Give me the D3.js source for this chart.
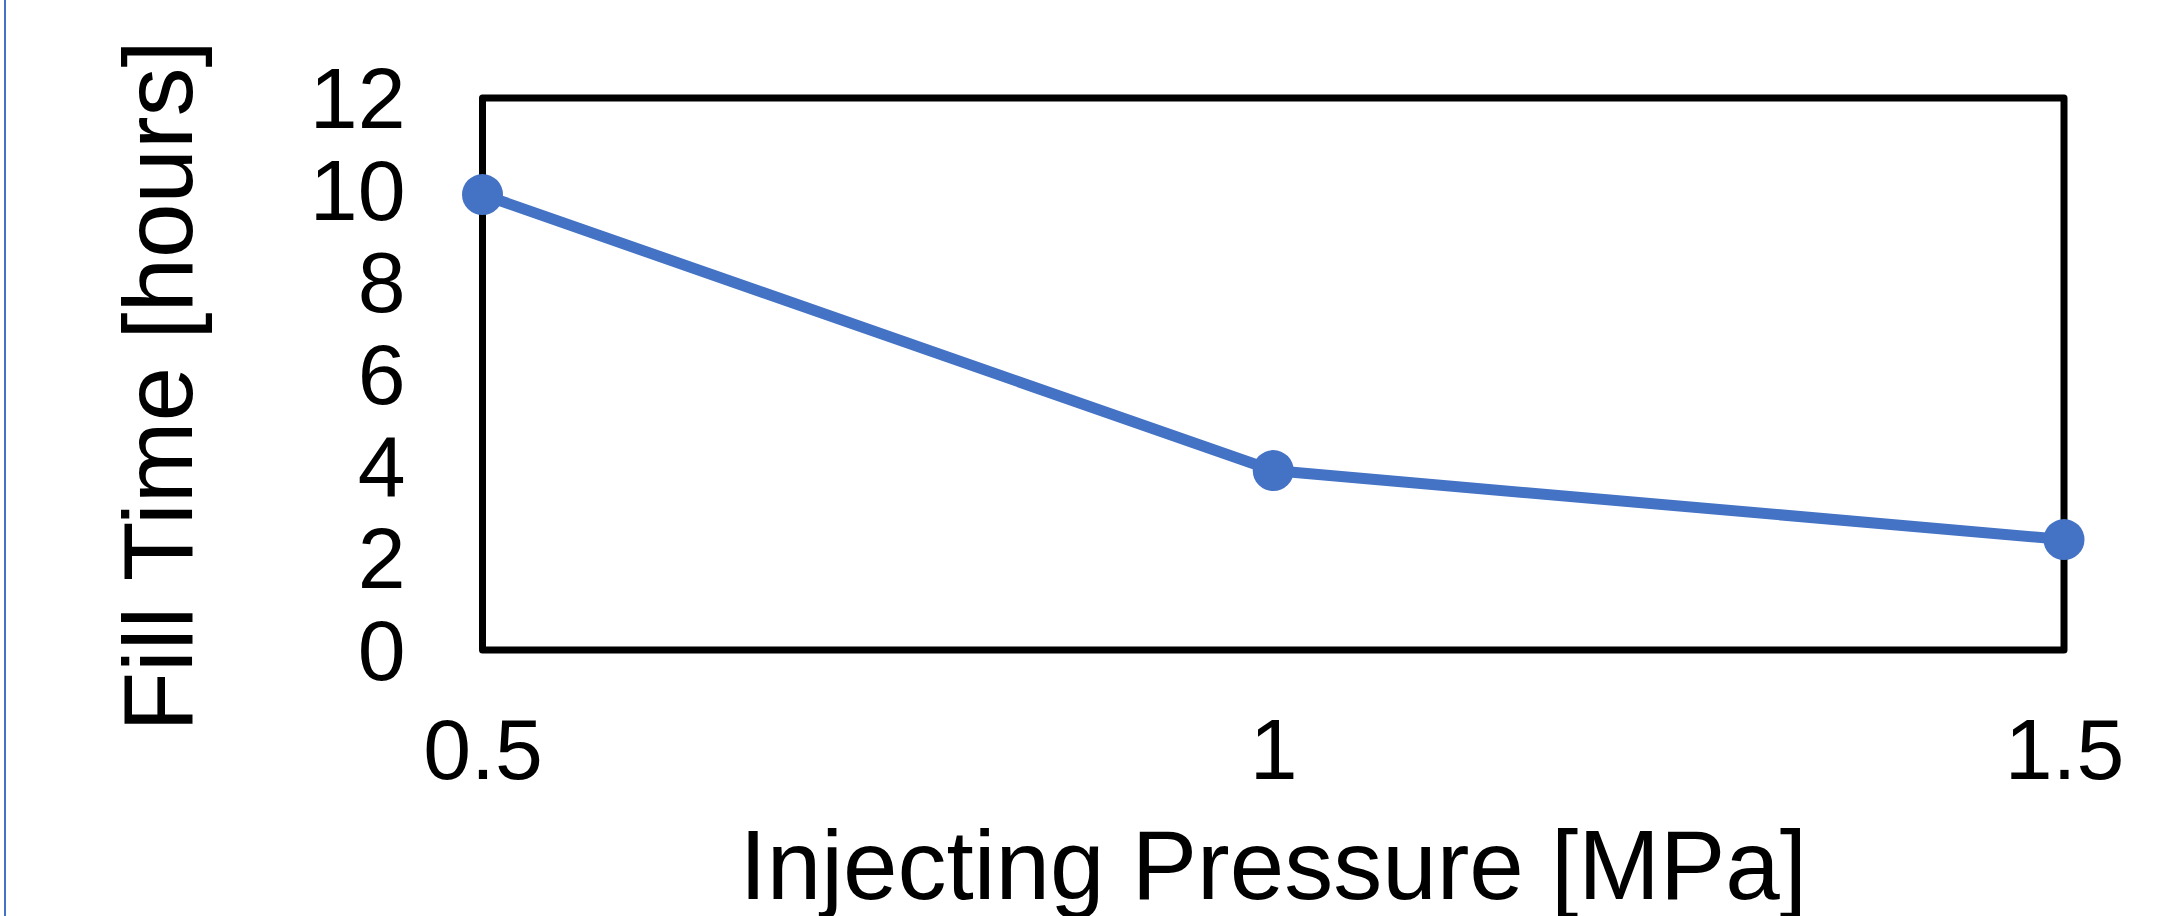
<!DOCTYPE html>
<html>
<head>
	<meta charset="UTF-8" />
	<title>fill time vs injecting pressure</title>
	<script src="https://d3js.org/d3.v7.min.js"></script>
	<style>
		body { margin: 0; background: #fff; }
		svg text { font-family: "Liberation Sans", Arial, sans-serif; fill: #000; }
	</style>
</head>
<body>
	<svg id="chart" style="width:2174px; height:916px; display:block"></svg>

	<script type="text/javascript">
	// data
	pressure = [0.5, 1, 1.5]
	fillTime = [9.9, 3.9, 2.4]
	xTicks = [0.5, 1, 1.5]
	xTickLabels = ["0.5", "1", "1.5"]
	yTicks = [0, 2, 4, 6, 8, 10, 12]
	xTitle = "Injecting Pressure [MPa]"
	yTitle = "Fill Time [hours]"

	// colours
	blue = "#4472c4"
	black = "#000000"

	var svg = d3.select("#chart")

	//scale
	var xScale = d3.scaleLinear().domain([0.5, 1.5]).range([482.5, 2064])
	var yScale = d3.scaleLinear().domain([0, 12]).range([650, 98])

	// thin blue edge on the far left
	svg.append("line")
		.attr("x1", 5).attr("x2", 5)
		.attr("y1", 0).attr("y2", 916)
		.style("stroke", blue)
		.style("stroke-width", "2px")

	//axis
	var xAxis = d3.axisBottom(xScale)
		.tickValues(xTicks)
		.tickFormat((d, i) => xTickLabels[i])
		.tickSize(0).tickPadding(68)
	svg.append("g").attr("id", "xAxisG")
		.attr("transform", `translate(0,${yScale(0)})`)
		.call(xAxis)

	var yAxis = d3.axisLeft(yScale)
		.tickValues(yTicks)
		.tickSize(0).tickPadding(77)
	svg.append("g").attr("id", "yAxisG")
		.attr("transform", `translate(${xScale(0.5)},0)`)
		.call(yAxis)

	svg.selectAll(".domain").remove()
	svg.selectAll(".tick text")
		.style("font-size", "86px")
		.style("font-family", "'Liberation Sans', Arial, sans-serif")
		.style("fill", black)
	svg.selectAll("#yAxisG .tick text").attr("dy", "0.34em")

	// plot frame
	svg.append("rect")
		.attr("x", xScale(0.5))
		.attr("y", yScale(12))
		.attr("width", xScale(1.5) - xScale(0.5))
		.attr("height", yScale(0) - yScale(12))
		.style("fill", "none")
		.style("stroke", black)
		.style("stroke-width", "7px")
		.style("stroke-linejoin", "round")

	// line + markers
	var points = pressure.map((p, i) => ({x: p, y: fillTime[i]}))
	var line = d3.line().x(d => xScale(d.x)).y(d => yScale(d.y))
	svg.append("path")
		.attr("d", line(points))
		.style("fill", "none")
		.style("stroke", blue)
		.style("stroke-width", "11px")

	svg.selectAll("circle.pt").data(points).enter()
		.append("circle").attr("class", "pt")
		.attr("cx", d => xScale(d.x))
		.attr("cy", d => yScale(d.y))
		.attr("r", 20.5)
		.style("fill", blue)

	// titles
	svg.append("text")
		.attr("x", (xScale(0.5) + xScale(1.5)) / 2)
		.attr("y", 899)
		.attr("text-anchor", "middle")
		.style("font-size", "98px")
		.text(xTitle)

	svg.append("text")
		.attr("transform", "translate(192,386) rotate(-90)")
		.attr("text-anchor", "middle")
		.style("font-size", "98px")
		.text(yTitle)
	</script>
</body>
</html>
